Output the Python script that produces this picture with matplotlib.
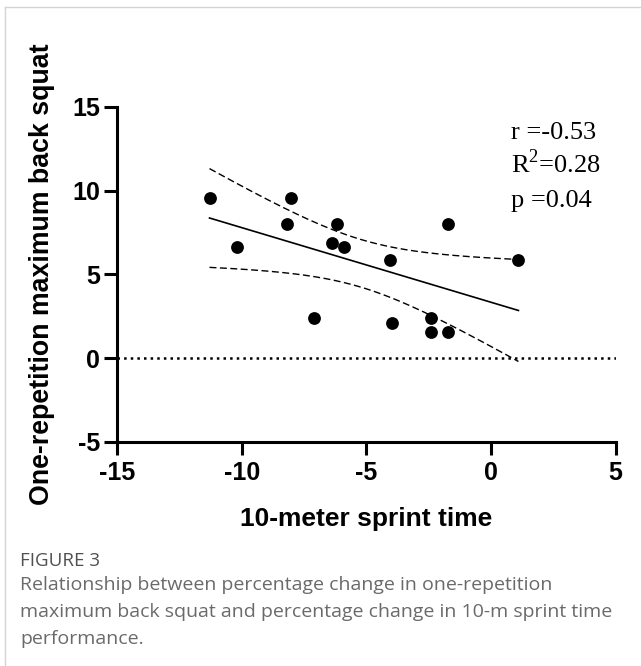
import numpy as np
import matplotlib
matplotlib.use("Agg")
import matplotlib.pyplot as plt
from matplotlib.lines import Line2D

# ---- data ----
sprint_change = [-11.29, -10.18, -8.04, -8.18, -6.18, -6.39, -5.88, -7.08,
                 -4.04, -3.96, -2.39, -2.39, -1.74, -1.74, 1.10]
squat_change = [9.54, 6.66, 9.54, 8.00, 8.00, 6.86, 6.66, 2.40,
                5.86, 2.08, 2.40, 1.54, 1.54, 8.00, 5.86]
x_ticks = [-15, -10, -5, 0, 5]
y_ticks = [-5, 0, 5, 10, 15]
stats_lines = ["r =-0.53", r"R$^{\mathrm{2}}$=0.28", "p =0.04"]
x_label = "10-meter sprint time"
y_label = "One-repetition maximum back squat"
caption_head = "FIGURE 3"
caption_lines = ["Relationship between percentage change in one-repetition",
                 "maximum back squat and percentage change in 10-m sprint time",
                 "performance."]
t_crit = 2.160  # t(0.975, df=13)

plt.rcParams['mathtext.fontset'] = 'custom'
plt.rcParams['mathtext.rm'] = 'Liberation Serif'

W, H = 641, 666
fig = plt.figure(figsize=(W / 100, H / 100), dpi=100)
fig.patch.set_facecolor('white')

def fx(px):
    return px / W

def fy(py):
    return 1 - py / H

ax = fig.add_axes([fx(117), fy(441.7), fx(615.7) - fx(117), fy(107) - fy(441.7)])

x = np.array(sprint_change)
y = np.array(squat_change)

# regression and 95% confidence band
slope, intercept = np.polyfit(x, y, 1)
n = len(x)
xm = x.mean()
resid = y - (slope * x + intercept)
s = np.sqrt(np.sum(resid ** 2) / (n - 2))
sxx = np.sum((x - xm) ** 2)
xf = np.linspace(x.min(), x.max(), 200)
yf = slope * xf + intercept
half = t_crit * s * np.sqrt(1 / n + (xf - xm) ** 2 / sxx)

ax.axhline(0, color='black', linestyle=':', linewidth=1.8, zorder=1)
ax.plot(xf, yf, color='black', linewidth=1.2, zorder=2)
ax.plot(xf, yf + half, color='black', linewidth=1.0, dashes=(5, 2.5), zorder=2)
ax.plot(xf, yf - half, color='black', linewidth=1.0, dashes=(5, 2.5), zorder=2)
ax.scatter(x, y, s=85, color='black', zorder=3, linewidths=0)

ax.set_xlim(-15, 5)
ax.set_ylim(-5, 15)
ax.set_xticks(x_ticks)
ax.set_yticks(y_ticks)
ax.set_xticklabels([str(v) for v in x_ticks])
ax.set_yticklabels([str(v) for v in y_ticks])

for side in ['top', 'right']:
    ax.spines[side].set_visible(False)
for side in ['left', 'bottom']:
    ax.spines[side].set_linewidth(2.2)
    ax.spines[side].set_capstyle('projecting')

ax.tick_params(axis='both', direction='out', length=9.5, width=2.2, color='black')
ax.tick_params(axis='x', pad=4.5)
ax.tick_params(axis='y', pad=2.5)
for lab in ax.get_xticklabels() + ax.get_yticklabels():
    lab.set_fontfamily('Liberation Sans')
    lab.set_fontweight('bold')
    lab.set_fontsize(18)

ax.set_xlabel(x_label, fontfamily='Liberation Sans', fontweight='bold', fontsize=19)
ax.set_ylabel(y_label, fontfamily='Liberation Sans', fontweight='bold', fontsize=19.3)
ax.xaxis.set_label_coords(0.5, -0.195)
ax.yaxis.set_label_coords(-0.125, 0.5)

for i, line in enumerate(stats_lines):
    ax.text(0.8, 13.1 - i * 2.05, line, fontfamily='Liberation Serif',
            fontsize=19, ha='left', va='baseline', color='black')

# page frame lines
frame_col = '#d4d4d4'
fig.add_artist(Line2D([fx(5), 1], [fy(7), fy(7)], color=frame_col, linewidth=1.0))
fig.add_artist(Line2D([fx(5), fx(5)], [fy(7), 0], color=frame_col, linewidth=1.0))

fig.text(fx(20), fy(566), caption_head, fontfamily='Open Sans', fontsize=13.5,
         color='#505050', ha='left', va='baseline')
for i, line in enumerate(caption_lines):
    fig.text(fx(20), fy(590 + i * 27), line, fontfamily='Open Sans', fontsize=14.0,
             color='#6a6a6a', ha='left', va='baseline')

fig.savefig('out.png', dpi=100, facecolor='white')
